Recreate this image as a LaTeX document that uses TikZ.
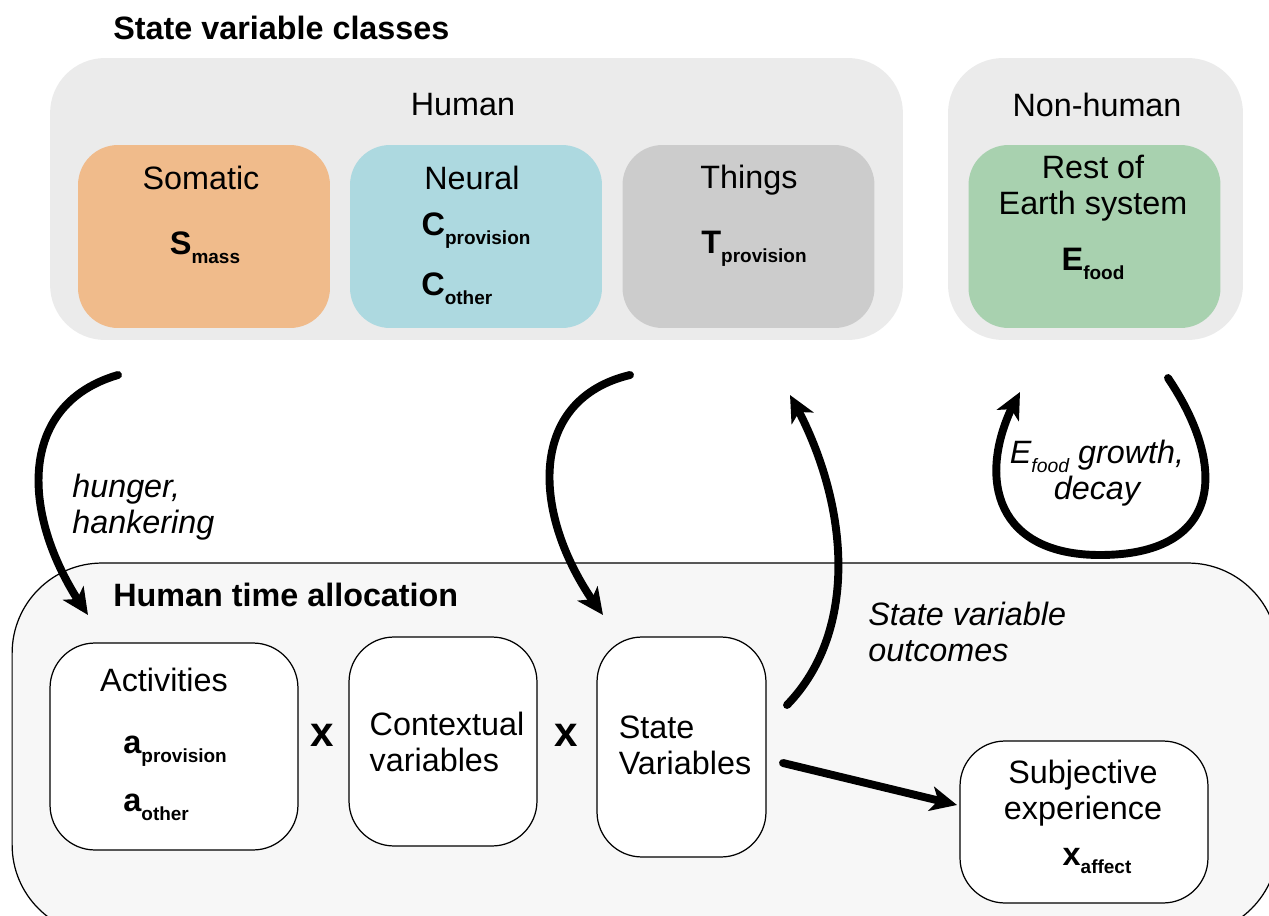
\documentclass[tikz,border=0pt]{standalone}
\usepackage{fontspec}
\setmainfont{Liberation Sans}
\usetikzlibrary{arrows.meta,bending}
\definecolor{groupgray}{HTML}{EBEBEB}
\definecolor{allocgray}{HTML}{F7F7F7}
\definecolor{somatic}{HTML}{F0BB8B}
\definecolor{neural}{HTML}{ADD9E0}
\definecolor{things}{HTML}{CCCCCC}
\definecolor{earth}{HTML}{A8D1AF}
% bold state variable with its subscript
\newcommand{\statevar}[2]{{\fontsize{18.5}{20}\selectfont\bfseries #1}\raisebox{-5pt}{\fontsize{10.8}{12}\selectfont\bfseries #2}}
\tikzset{
  txt/.style={font=\fontsize{18.4}{20.5}\selectfont, inner sep=0pt, align=center},
  group/.style={fill=groupgray, rounded corners=1.1cm, inner sep=0pt},
  classbox/.style={rounded corners=0.8cm, minimum width=5.04cm, minimum height=3.66cm, inner sep=0pt},
  allocbox/.style={draw, fill=white, line width=0.7pt, rounded corners=0.9cm, inner sep=0pt},
  flow/.style={line width=4.5pt, line cap=round, -{Stealth[length=15pt,width=14pt,inset=4pt]}}
}
\begin{document}
\begin{tikzpicture}[x=0.02cm, y=-0.02cm]
    \useasboundingbox (0,0) rectangle (1269,916);

    % state variable classes
    \node[txt, font=\fontsize{18.4}{20}\selectfont\bfseries, anchor=west] (title) at (113,28) {State variable classes};
    \node[group, minimum width=17.06cm, minimum height=5.64cm] (human) at (476.5,199) {};
    \node[group, minimum width=5.9cm, minimum height=5.64cm] (nonhuman) at (1095.5,199) {};
    \node[txt] (humanlbl) at (463,105) {Human};
    \node[txt] (nonhumanlbl) at (1097,105) {Non-human};

    \node[classbox, fill=somatic] (somatic) at (204,236.5) {};
    \node[classbox, fill=neural] (neural) at (476,236.5) {};
    \node[classbox, fill=things] (things) at (748.5,236.5) {};
    \node[classbox, fill=earth] (earth) at (1094.5,236.5) {};

    \node[txt] (somaticlbl) at (201,178) {Somatic};
    \node[txt] (smass) at (205,248) {\statevar{S}{mass}};
    \node[txt] (neurallbl) at (472,178) {Neural};
    \node[txt] (cprov) at (476,231) {\statevar{C}{provision}};
    \node[txt, anchor=west] (cother) at (421,289) {\statevar{C}{other}};
    \node[txt] (thingslbl) at (749,180) {Things};
    \node[txt] (tprov) at (754,249) {\statevar{T}{provision}};
    \node[txt] (earthlbl) at (1093,188) {Rest of\\Earth system};
    \node[txt] (efood) at (1093,264) {\statevar{E}{food}};

    % human time allocation
    \node[draw, fill=allocgray, line width=0.7pt, rounded corners=1.8cm, minimum width=25.32cm, minimum height=7.44cm, inner sep=0pt] (alloc) at (645,749) {};
    \node[txt, font=\fontsize{18.4}{20}\selectfont\bfseries, anchor=west] (alloclbl) at (113,595) {Human time allocation};

    \node[allocbox, minimum width=4.96cm, minimum height=4.14cm] (activities) at (174,746.5) {};
    \node[allocbox, minimum width=3.76cm, minimum height=4.18cm] (context) at (443,741.5) {};
    \node[allocbox, minimum width=3.38cm, minimum height=4.4cm] (statevars) at (681.5,747) {};
    \node[allocbox, minimum width=4.96cm, minimum height=3.24cm] (subjective) at (1084,822) {};

    \node[txt] (activitieslbl) at (164,680) {Activities};
    \node[txt, anchor=west] (aprov) at (123,751) {\statevar{a}{provision}};
    \node[txt, anchor=west] (aother) at (123,807) {\statevar{a}{other}};
    \node[txt, font=\fontsize{24}{26}\selectfont\bfseries] (times1) at (322,735) {x};
    \node[txt, align=left] (contextlbl) at (447,742) {Contextual\\variables};
    \node[txt, font=\fontsize{24}{26}\selectfont\bfseries] (times2) at (566,735) {x};
    \node[txt, align=left] (statevarslbl) at (685,745) {State\\Variables};
    \node[txt] (subjectivelbl) at (1083,793) {Subjective\\experience};
    \node[txt] (xaffect) at (1097,861) {\statevar{x}{affect}};

    % flows
    \coordinate (hungerA) at (118,375);
    \coordinate (hungerB) at (88,615);
    \coordinate (provA) at (630,375);
    \coordinate (provB) at (603,615);
    \coordinate (outA) at (787,705);
    \coordinate (outB) at (790,395);
    \coordinate (foodA) at (1168,378);
    \coordinate (foodB) at (1020,392);
    \coordinate (expA) at (783,763);
    \coordinate (expB) at (957,805);

    \draw[flow] (hungerA) .. controls (15,405) and (20,520) .. (hungerB);
    \draw[flow] (provA) .. controls (525,400) and (530,520) .. (provB);
    \draw[flow] (outA) .. controls (860,630) and (850,500) .. (outB);
    \draw[flow] (foodA) .. controls (1230,470) and (1220,555) .. (1100,555) .. controls (990,555) and (975,470) .. (foodB);
    \draw[flow] (expA) -- (expB);

    \node[txt, align=left, font=\fontsize{18.4}{20.5}\selectfont\itshape, anchor=west] (hungerlbl) at (72,507) {hunger,\\hankering};
    \node[txt, align=left, font=\fontsize{18.4}{20.5}\selectfont\itshape, anchor=west] (outlbl) at (868,632) {State variable\\outcomes};
    \node[txt, font=\fontsize{18.4}{20.5}\selectfont\itshape] (foodlbl) at (1097,473) {\textit{E}\raisebox{-5pt}{\fontsize{11}{13}\selectfont\itshape food} growth,\\decay};
\end{tikzpicture}
\end{document}
